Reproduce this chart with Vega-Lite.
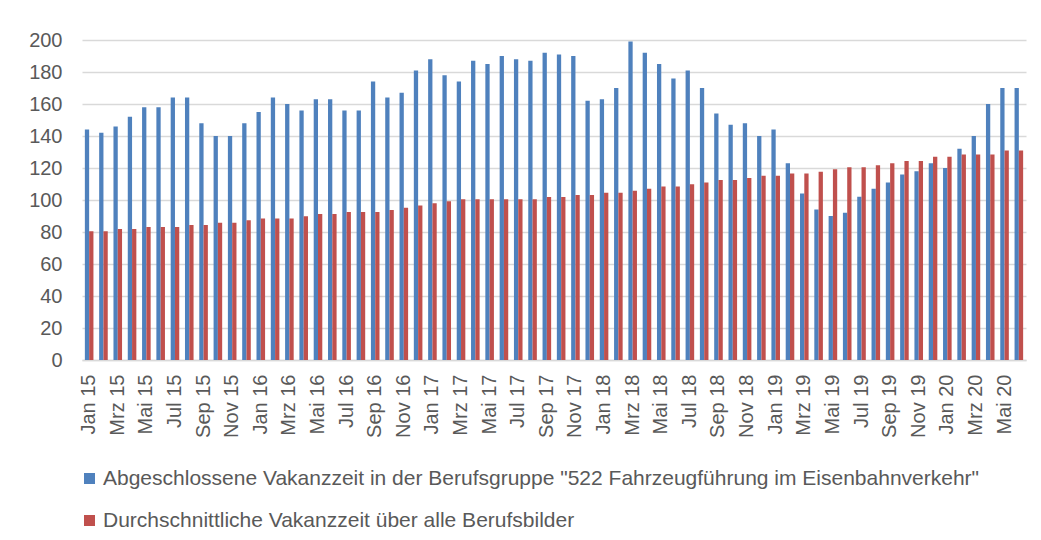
{
  "$schema": "https://vega.github.io/schema/vega-lite/v6.json",
  "autosize": {"type": "none"},
  "width": 944,
  "height": 320,
  "padding": {"left": 82, "top": 40, "right": 15, "bottom": 180},
  "background": "white",
  "config": {
    "font": "Liberation Sans",
    "view": {"stroke": null},
    "axis": {"labelColor": "#595959", "labelFont": "Liberation Sans", "labelFontSize": 20, "title": null},
    "legend": {"labelColor": "#595959", "labelFont": "Liberation Sans", "labelFontSize": 21, "padding": 0}
  },
  "data": {
    "values": [
      {"Monat": "Jan 15", "Abgeschlossen": 144, "Durchschnitt": 80.4},
      {"Monat": "Feb 15", "Abgeschlossen": 142, "Durchschnitt": 80.4},
      {"Monat": "Mrz 15", "Abgeschlossen": 146, "Durchschnitt": 81.9},
      {"Monat": "Apr 15", "Abgeschlossen": 152, "Durchschnitt": 81.9},
      {"Monat": "Mai 15", "Abgeschlossen": 158, "Durchschnitt": 83.1},
      {"Monat": "Jun 15", "Abgeschlossen": 158, "Durchschnitt": 83.1},
      {"Monat": "Jul 15", "Abgeschlossen": 164, "Durchschnitt": 83.1},
      {"Monat": "Aug 15", "Abgeschlossen": 164, "Durchschnitt": 84.4},
      {"Monat": "Sep 15", "Abgeschlossen": 148, "Durchschnitt": 84.4},
      {"Monat": "Okt 15", "Abgeschlossen": 140, "Durchschnitt": 85.8},
      {"Monat": "Nov 15", "Abgeschlossen": 140, "Durchschnitt": 85.8},
      {"Monat": "Dez 15", "Abgeschlossen": 148, "Durchschnitt": 87.3},
      {"Monat": "Jan 16", "Abgeschlossen": 155, "Durchschnitt": 88.5},
      {"Monat": "Feb 16", "Abgeschlossen": 164, "Durchschnitt": 88.5},
      {"Monat": "Mrz 16", "Abgeschlossen": 160, "Durchschnitt": 88.5},
      {"Monat": "Apr 16", "Abgeschlossen": 156, "Durchschnitt": 89.8},
      {"Monat": "Mai 16", "Abgeschlossen": 163, "Durchschnitt": 91.3},
      {"Monat": "Jun 16", "Abgeschlossen": 163, "Durchschnitt": 91.3},
      {"Monat": "Jul 16", "Abgeschlossen": 156, "Durchschnitt": 92.5},
      {"Monat": "Aug 16", "Abgeschlossen": 156, "Durchschnitt": 92.5},
      {"Monat": "Sep 16", "Abgeschlossen": 174, "Durchschnitt": 92.5},
      {"Monat": "Okt 16", "Abgeschlossen": 164, "Durchschnitt": 93.8},
      {"Monat": "Nov 16", "Abgeschlossen": 167, "Durchschnitt": 95.2},
      {"Monat": "Dez 16", "Abgeschlossen": 181, "Durchschnitt": 96.5},
      {"Monat": "Jan 17", "Abgeschlossen": 188, "Durchschnitt": 97.9},
      {"Monat": "Feb 17", "Abgeschlossen": 178, "Durchschnitt": 99.2},
      {"Monat": "Mrz 17", "Abgeschlossen": 174, "Durchschnitt": 100.4},
      {"Monat": "Apr 17", "Abgeschlossen": 187, "Durchschnitt": 100.4},
      {"Monat": "Mai 17", "Abgeschlossen": 185, "Durchschnitt": 100.4},
      {"Monat": "Jun 17", "Abgeschlossen": 190, "Durchschnitt": 100.4},
      {"Monat": "Jul 17", "Abgeschlossen": 188, "Durchschnitt": 100.4},
      {"Monat": "Aug 17", "Abgeschlossen": 187, "Durchschnitt": 100.4},
      {"Monat": "Sep 17", "Abgeschlossen": 192, "Durchschnitt": 101.9},
      {"Monat": "Okt 17", "Abgeschlossen": 191, "Durchschnitt": 101.9},
      {"Monat": "Nov 17", "Abgeschlossen": 190, "Durchschnitt": 103.1},
      {"Monat": "Dez 17", "Abgeschlossen": 162, "Durchschnitt": 103.1},
      {"Monat": "Jan 18", "Abgeschlossen": 163, "Durchschnitt": 104.6},
      {"Monat": "Feb 18", "Abgeschlossen": 170, "Durchschnitt": 104.6},
      {"Monat": "Mrz 18", "Abgeschlossen": 199, "Durchschnitt": 105.8},
      {"Monat": "Apr 18", "Abgeschlossen": 192, "Durchschnitt": 107.1},
      {"Monat": "Mai 18", "Abgeschlossen": 185, "Durchschnitt": 108.5},
      {"Monat": "Jun 18", "Abgeschlossen": 176, "Durchschnitt": 108.5},
      {"Monat": "Jul 18", "Abgeschlossen": 181, "Durchschnitt": 109.8},
      {"Monat": "Aug 18", "Abgeschlossen": 170, "Durchschnitt": 111.0},
      {"Monat": "Sep 18", "Abgeschlossen": 154, "Durchschnitt": 112.5},
      {"Monat": "Okt 18", "Abgeschlossen": 147, "Durchschnitt": 112.5},
      {"Monat": "Nov 18", "Abgeschlossen": 148, "Durchschnitt": 113.8},
      {"Monat": "Dez 18", "Abgeschlossen": 140, "Durchschnitt": 115.2},
      {"Monat": "Jan 19", "Abgeschlossen": 144, "Durchschnitt": 115.2},
      {"Monat": "Feb 19", "Abgeschlossen": 123, "Durchschnitt": 116.5},
      {"Monat": "Mrz 19", "Abgeschlossen": 104, "Durchschnitt": 116.5},
      {"Monat": "Apr 19", "Abgeschlossen": 94, "Durchschnitt": 117.7},
      {"Monat": "Mai 19", "Abgeschlossen": 90, "Durchschnitt": 119.2},
      {"Monat": "Jun 19", "Abgeschlossen": 92, "Durchschnitt": 120.4},
      {"Monat": "Jul 19", "Abgeschlossen": 102, "Durchschnitt": 120.4},
      {"Monat": "Aug 19", "Abgeschlossen": 107, "Durchschnitt": 121.7},
      {"Monat": "Sep 19", "Abgeschlossen": 111, "Durchschnitt": 122.9},
      {"Monat": "Okt 19", "Abgeschlossen": 116, "Durchschnitt": 124.4},
      {"Monat": "Nov 19", "Abgeschlossen": 118, "Durchschnitt": 124.4},
      {"Monat": "Dez 19", "Abgeschlossen": 123, "Durchschnitt": 127.1},
      {"Monat": "Jan 20", "Abgeschlossen": 120, "Durchschnitt": 127.1},
      {"Monat": "Feb 20", "Abgeschlossen": 132, "Durchschnitt": 128.5},
      {"Monat": "Mrz 20", "Abgeschlossen": 140, "Durchschnitt": 128.5},
      {"Monat": "Apr 20", "Abgeschlossen": 160, "Durchschnitt": 128.5},
      {"Monat": "Mai 20", "Abgeschlossen": 170, "Durchschnitt": 131.0},
      {"Monat": "Jun 20", "Abgeschlossen": 170, "Durchschnitt": 131.0}
    ]
  },
  "transform": [
    {"fold": ["Abgeschlossen", "Durchschnitt"], "as": ["Serie", "Wert"]}
  ],
  "mark": {"type": "bar"},
  "encoding": {
    "x": {
      "field": "Monat",
      "type": "ordinal",
      "sort": null,
      "scale": {"paddingInner": 0.4, "paddingOuter": 0.2},
      "axis": {
        "values": ["Jan 15","Mrz 15","Mai 15","Jul 15","Sep 15","Nov 15","Jan 16","Mrz 16","Mai 16","Jul 16","Sep 16","Nov 16","Jan 17","Mrz 17","Mai 17","Jul 17","Sep 17","Nov 17","Jan 18","Mrz 18","Mai 18","Jul 18","Sep 18","Nov 18","Jan 19","Mrz 19","Mai 19","Jul 19","Sep 19","Nov 19","Jan 20","Mrz 20","Mai 20"],
        "labelAngle": -90,
        "labelPadding": 14,
        "ticks": false,
        "domain": true,
        "domainColor": "#D9D9D9",
        "domainWidth": 1.5,
        "grid": false
      }
    },
    "xOffset": {
      "field": "Serie",
      "type": "nominal",
      "scale": {"paddingInner": 0, "paddingOuter": 0}
    },
    "y": {
      "field": "Wert",
      "type": "quantitative",
      "scale": {"domain": [0, 200], "nice": false},
      "axis": {
        "values": [0, 20, 40, 60, 80, 100, 120, 140, 160, 180, 200],
        "ticks": false,
        "domain": false,
        "grid": true,
        "gridColor": "#D9D9D9",
        "gridWidth": 1.5,
        "labelPadding": 20
      }
    },
    "color": {
      "field": "Serie",
      "type": "nominal",
      "scale": {"domain": ["Abgeschlossen", "Durchschnitt"], "range": ["#4F81BD", "#C0504D"]},
      "legend": {
        "title": null,
        "orient": "none",
        "legendX": -3,
        "legendY": 428,
        "direction": "vertical",
        "symbolType": "square",
        "symbolSize": 121,
        "symbolStrokeWidth": 0,
        "labelOffset": 3,
        "rowPadding": 20,
        "labelLimit": 1000,
        "labelExpr": "datum.label == 'Abgeschlossen' ? 'Abgeschlossene Vakanzzeit in der Berufsgruppe \"522 Fahrzeugführung im Eisenbahnverkehr\"' : 'Durchschnittliche Vakanzzeit über alle Berufsbilder'"
      }
    }
  }
}
